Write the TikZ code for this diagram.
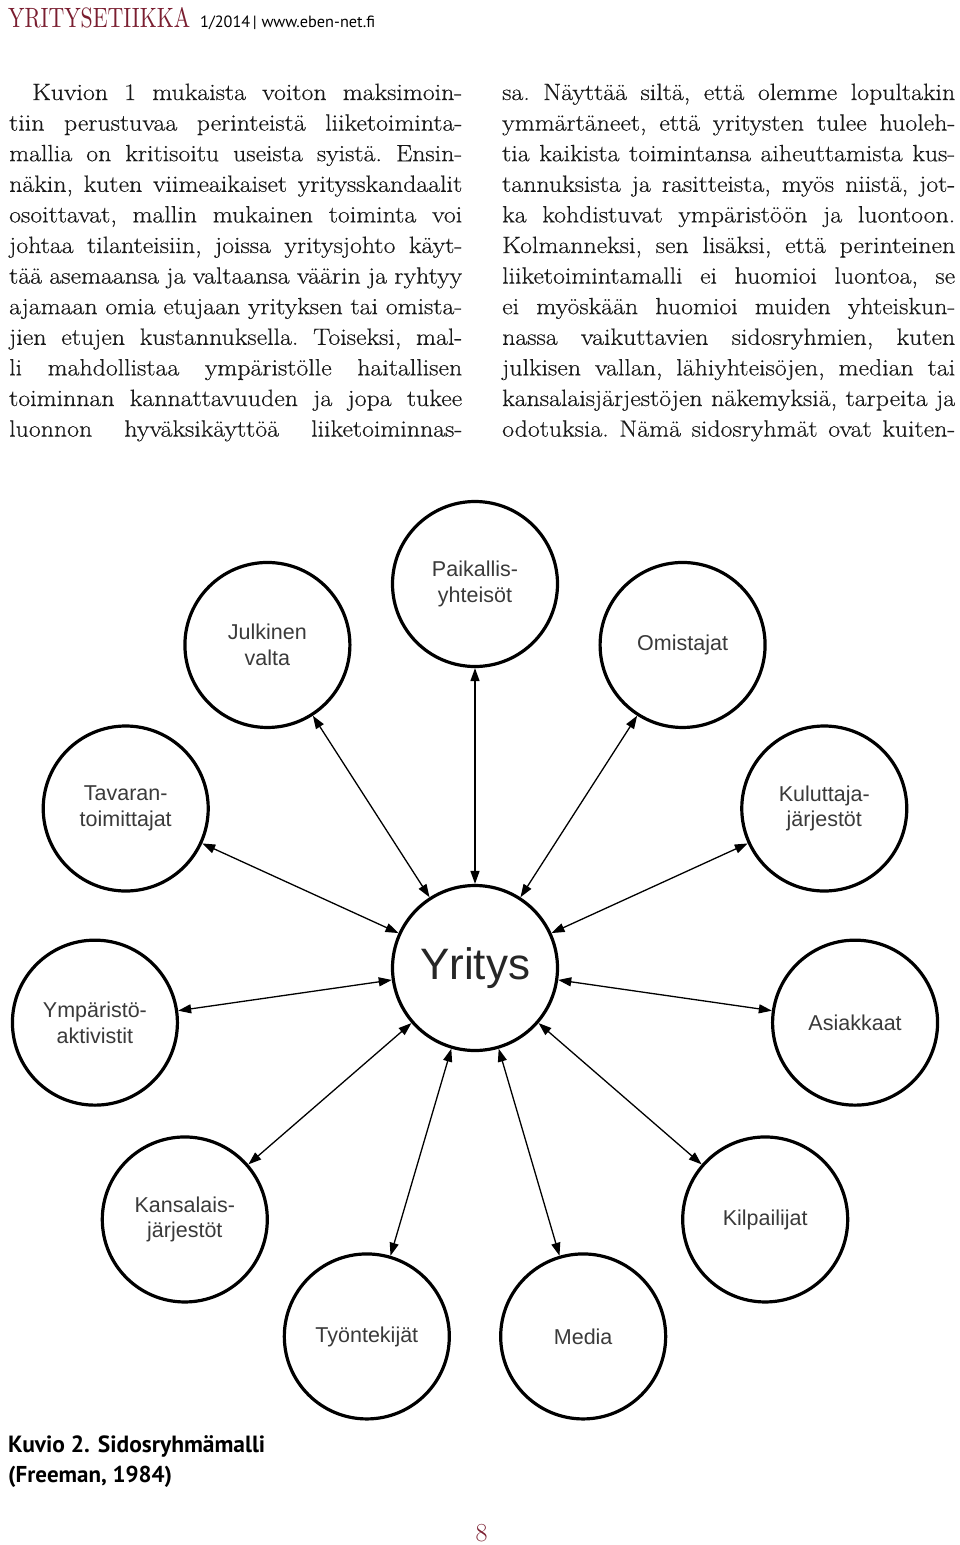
\documentclass[tikz,border=0pt]{standalone}
\usepackage{fontspec}
\usepackage{graphicx}
\usetikzlibrary{arrows.meta}
\newfontfamily\ptsans{PT Sans}
\newfontfamily\lsans{Liberation Sans}
\newfontfamily\bodyserif{Latin Modern Roman}[FakeStretch=1.1,FakeBold=0.4]
\definecolor{hdred}{HTML}{7A1E30}
\definecolor{labelgray}{HTML}{3A3A3A}
\newcommand\mybody{\bodyserif\fontsize{23.5}{27}\selectfont\frenchspacing}
\begin{document}
\begin{tikzpicture}[x=1pt,y=1pt,
  stake/.style={circle, draw=black, line width=3.2pt, minimum size=165pt, inner sep=0pt,
    align=center, font=\lsans\fontsize{21.5}{25.5}\selectfont, text=labelgray},
  link/.style={line width=1.3pt, {Triangle[length=13pt,width=9pt]}-{Triangle[length=13pt,width=9pt]}},
  bodyline/.style={anchor=base west, inner sep=0pt, font=\mybody, text=black!90},
  plain/.style={anchor=base west, inner sep=0pt}]
\fill[white] (0,0) rectangle (960,-1545);
\useasboundingbox (0,0) rectangle (960,-1545);

% header
\node[plain, text=hdred] (mag) at (8,-27) {\resizebox{182pt}{20pt}{YRITYSETIIKKA}};
\node[plain, font=\ptsans] (issue) at (200,-27) {\resizebox{175pt}{!}{1/2014\kern1.5pt|\kern3pt www.eben-net.fi}};

% left column
\node[bodyline] (l1) at (32,-100) {\makebox[430pt][s]{Kuvion 1 mukaista voiton maksimoin-}};
\node[bodyline] (l2) at (9,-130.6) {\makebox[453pt][s]{tiin perustuvaa perinteistä liiketoiminta-}};
\node[bodyline] (l3) at (9,-161.2) {\makebox[453pt][s]{mallia on kritisoitu useista syistä. Ensin-}};
\node[bodyline] (l4) at (9,-191.8) {\makebox[453pt][s]{näkin, kuten viimeaikaiset yritysskandaalit}};
\node[bodyline] (l5) at (9,-222.4) {\makebox[453pt][s]{osoittavat, mallin mukainen toiminta voi}};
\node[bodyline] (l6) at (9,-253.0) {\makebox[453pt][s]{johtaa tilanteisiin, joissa yritysjohto käyt-}};
\node[bodyline] (l7) at (9,-283.6) {\makebox[453pt][s]{tää asemaansa ja valtaansa väärin ja ryhtyy}};
\node[bodyline] (l8) at (9,-314.2) {\makebox[453pt][s]{ajamaan omia etujaan yrityksen tai omista-}};
\node[bodyline] (l9) at (9,-344.8) {\makebox[453pt][s]{jien etujen kustannuksella. Toiseksi, mal-}};
\node[bodyline] (l10) at (9,-375.4) {\makebox[453pt][s]{li mahdollistaa ympäristölle haitallisen}};
\node[bodyline] (l11) at (9,-406.0) {\makebox[453pt][s]{toiminnan kannattavuuden ja jopa tukee}};
\node[bodyline] (l12) at (9,-436.6) {\makebox[453pt][s]{luonnon hyväksikäyttöä liiketoiminnas-}};

% right column
\node[bodyline] (r1) at (502,-100) {\makebox[453pt][s]{sa. Näyttää siltä, että olemme lopultakin}};
\node[bodyline] (r2) at (502,-130.6) {\makebox[453pt][s]{ymmärtäneet, että yritysten tulee huoleh-}};
\node[bodyline] (r3) at (502,-161.2) {\makebox[453pt][s]{tia kaikista toimintansa aiheuttamista kus-}};
\node[bodyline] (r4) at (502,-191.8) {\makebox[453pt][s]{tannuksista ja rasitteista, myös niistä, jot-}};
\node[bodyline] (r5) at (502,-222.4) {\makebox[453pt][s]{ka kohdistuvat ympäristöön ja luontoon.}};
\node[bodyline] (r6) at (502,-253.0) {\makebox[453pt][s]{Kolmanneksi, sen lisäksi, että perinteinen}};
\node[bodyline] (r7) at (502,-283.6) {\makebox[453pt][s]{liiketoimintamalli ei huomioi luontoa, se}};
\node[bodyline] (r8) at (502,-314.2) {\makebox[453pt][s]{ei myöskään huomioi muiden yhteiskun-}};
\node[bodyline] (r9) at (502,-344.8) {\makebox[453pt][s]{nassa vaikuttavien sidosryhmien, kuten}};
\node[bodyline] (r10) at (502,-375.4) {\makebox[453pt][s]{julkisen vallan, lähiyhteisöjen, median tai}};
\node[bodyline] (r11) at (502,-406.0) {\makebox[453pt][s]{kansalaisjärjestöjen näkemyksiä, tarpeita ja}};
\node[bodyline] (r12) at (502,-436.6) {\makebox[453pt][s]{odotuksia. Nämä sidosryhmät ovat kuiten-}};

% diagram
\node[stake, font=\lsans\fontsize{44}{48}\selectfont, text=black!85] (Y) at (475,-968) {Yritys};
\path (Y.center) ++(90:384pt) node[stake] (n0) {Paikallis-\\yhteisöt};
\path (Y.center) ++(122.727:384pt) node[stake] (n1) {Julkinen\\valta};
\path (Y.center) ++(155.455:384pt) node[stake] (n2) {Tavaran-\\toimittajat};
\path (Y.center) ++(188.182:384pt) node[stake] (n3) {Ympäristö-\\aktivistit};
\path (Y.center) ++(220.909:384pt) node[stake] (n4) {Kansalais-\\järjestöt};
\path (Y.center) ++(253.636:384pt) node[stake] (n5) {Työntekijät};
\path (Y.center) ++(286.364:384pt) node[stake] (n6) {Media};
\path (Y.center) ++(319.091:384pt) node[stake] (n7) {Kilpailijat};
\path (Y.center) ++(351.818:384pt) node[stake] (n8) {Asiakkaat};
\path (Y.center) ++(24.545:384pt) node[stake] (n9) {Kuluttaja-\\järjestöt};
\path (Y.center) ++(57.273:384pt) node[stake] (n10) {Omistajat};
\foreach \k in {0,...,10} \draw[link] (Y) -- (n\k);

% caption
\node[plain, font=\ptsans\bfseries] (cap1) at (8,-1452) {\resizebox{257pt}{!}{Kuvio 2. Sidosryhmämalli}};
\node[plain, font=\ptsans\bfseries] (cap2) at (8,-1482) {\resizebox{164pt}{!}{(Freeman, 1984)}};

% page number
\node[anchor=base, inner sep=0pt, text=hdred, font=\fontsize{26}{30}\selectfont] (pg) at (481.5,-1541.5) {8};
\end{tikzpicture}
\end{document}
